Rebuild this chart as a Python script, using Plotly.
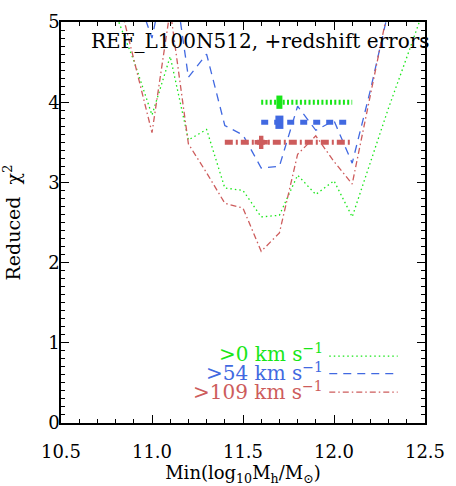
import plotly.graph_objects as go

# ---- data ----
x_mh = [10.8, 10.9, 11.0, 11.1, 11.2, 11.3, 11.4, 11.5, 11.6, 11.7, 11.8, 11.9, 12.0, 12.1, 12.2, 12.3, 12.4, 12.5]
chi_v0 = [5.1, 4.52, 3.84, 4.57, 3.53, 3.66, 2.93, 2.90, 2.57, 2.59, 3.09, 2.85, 3.02, 2.57, 3.25, 3.93, 4.56, 5.2]
chi_v54 = [6.0, 5.45, 4.8, 5.9, 4.31, 4.6, 3.71, 3.59, 3.18, 3.2, 3.95, 3.65, 3.77, 3.24, 4.15, 5.15, 6.0, 6.5]
chi_v109 = [5.45, 4.55, 3.62, 5.15, 3.48, 3.12, 2.74, 2.68, 2.14, 2.37, 3.35, 3.58, 3.26, 2.98, 4.1, 5.2, 6.0, 6.5]

series_labels = [">0 km s<sup>−1</sup>", ">54 km s<sup>−1</sup>", ">109 km s<sup>−1</sup>"]
series_colors = ["#18e618", "#4169e1", "#cd5c5c"]

# best-fit markers with ranges
err_y = [4.0, 3.75, 3.5]
err_center = [11.7, 11.7, 11.6]
err_lo = [11.6, 11.6, 11.4]
err_hi = [12.1, 12.1, 12.1]

x_ticks = [10.5, 11.0, 11.5, 12.0, 12.5]
y_ticks = [0, 1, 2, 3, 4, 5]

FONT = "DejaVu Serif"

thin_dash = ["1.5px,3px", "8px,6px", "6px,3px,1.5px,3px"]
thick_dash = ["2px,2.3px", "7px,6px", "8px,3px,2px,3px"]
marker_sym = ["line-ns", "line-ns", "cross"]
marker_size = [9.5, 9.5, 11]
marker_lw = [6, 8, 0]

fig = go.Figure()
curves = [chi_v0, chi_v54, chi_v109]
for i, ys in enumerate(curves):
    fig.add_trace(go.Scatter(x=x_mh, y=ys, mode="lines",
                             line=dict(color=series_colors[i], width=1.3, dash=thin_dash[i]),
                             showlegend=False, hoverinfo="skip"))

for i in range(3):
    fig.add_trace(go.Scatter(x=[err_lo[i], err_hi[i]], y=[err_y[i], err_y[i]], mode="lines",
                             line=dict(color=series_colors[i], width=5, dash=thick_dash[i]),
                             showlegend=False, hoverinfo="skip"))
    fig.add_trace(go.Scatter(x=[err_center[i]], y=[err_y[i]], mode="markers",
                             marker=dict(symbol=marker_sym[i], size=marker_size[i],
                                         color=series_colors[i],
                                         line=dict(color=series_colors[i], width=marker_lw[i])),
                             showlegend=False, hoverinfo="skip"))

annotations = [dict(text="REF_L100N512, +redshift errors", xref="paper", yref="paper",
                    x=1.018, y=0.953, xanchor="right", yanchor="middle", showarrow=False,
                    font=dict(family=FONT, size=20, color="black"))]
shapes = []
leg_text_y = [0.174, 0.126, 0.080]
leg_line_y = [0.167, 0.123, 0.077]
for i in range(3):
    annotations.append(dict(text=series_labels[i], xref="paper", yref="paper",
                            x=0.725, y=leg_text_y[i], xanchor="right", yanchor="middle",
                            showarrow=False,
                            font=dict(family=FONT, size=20, color=series_colors[i])))
    shapes.append(dict(type="line", xref="paper", yref="paper",
                       x0=0.737, x1=0.925, y0=leg_line_y[i], y1=leg_line_y[i],
                       line=dict(color=series_colors[i], width=1.3, dash=thin_dash[i])))

axis_common = dict(showline=True, linecolor="black", linewidth=1.5, mirror="ticks",
                   ticks="inside", ticklen=8, tickwidth=1.2, tickcolor="black",
                   showgrid=False, zeroline=False,
                   tickfont=dict(family=FONT, size=18, color="black"))

fig.update_layout(
    width=456, height=486,
    margin=dict(l=61, r=23, t=11, b=62),
    paper_bgcolor="white", plot_bgcolor="white",
    xaxis=dict(range=[10.5, 12.5], tickvals=x_ticks, ticktext=[f"{v:.1f}" for v in x_ticks],
               minor=dict(dtick=0.1, ticks="inside", ticklen=4, tickcolor="black"),
               ticklabelstandoff=12,
               title=dict(text="Min(log<sub>10</sub>M<sub>h</sub>/M<sub>⊙</sub>)",
                          font=dict(family=FONT, size=18, color="black"), standoff=0),
               **axis_common),
    yaxis=dict(range=[0, 5], tickvals=y_ticks, ticktext=[str(v) for v in y_ticks],
               minor=dict(dtick=0.1, ticks="inside", ticklen=4, tickcolor="black"),
               ticklabelstandoff=-4,
               title=dict(text="Reduced  χ<sup>2</sup>",
                          font=dict(family=FONT, size=19, color="black"), standoff=23),
               **axis_common),
    annotations=annotations,
    shapes=shapes,
)

fig.write_html("out.html")
